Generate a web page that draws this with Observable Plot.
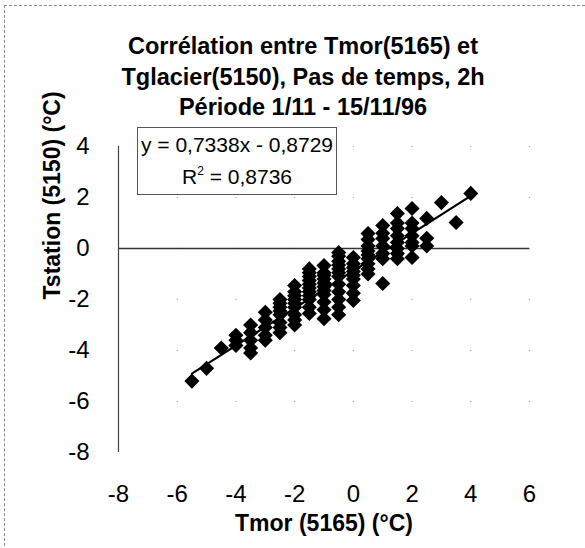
<!DOCTYPE html>
<html>
<head>
<meta charset="utf-8">
<script src="https://cdn.jsdelivr.net/npm/d3@7"></script>
<script src="https://cdn.jsdelivr.net/npm/@observablehq/plot@0.6"></script>
<style>
  html, body { margin: 0; padding: 0; background: #fff; }
  #wrap { position: relative; width: 585px; height: 548px; overflow: hidden; font-family: "Liberation Sans", Arial, sans-serif; }
  #border { position: absolute; left: 4px; top: 5px; width: 590px; height: 560px; border-top: 1px dashed #888; border-left: 1px dashed #888; pointer-events: none; }
  #eq { position: absolute; left: 137px; top: 127px; width: 200px; height: 68px; border: 1px solid #555; background: #fff;
        font-size: 21px; color: #000; text-align: center; line-height: 32px; box-sizing: border-box; padding-top: 1px; white-space: nowrap; }
  #eq sup { font-size: 12px; line-height: 0; vertical-align: 9px; }
</style>
</head>
<body>
<div id="wrap">
  <div id="chart"></div>
  <div id="eq">y = 0,7338x - 0,8729<br>R<sup>2</sup> = 0,8736</div>
  <div id="border"></div>
</div>
<script>
// Title lines
const titleLines = ["Corrélation entre Tmor(5165) et", "Tglacier(5150), Pas de temps, 2h", "Période 1/11 - 15/11/96"];
const xLabel = "Tmor (5165) (°C)";
const yLabel = "Tstation (5150) (°C)";
const xTicks = [-8, -6, -4, -2, 0, 2, 4, 6];
const yTicks = [-8, -6, -4, -2, 0, 2, 4];
const slope = 0.7338;
const intercept = -0.8729;

// Data: Tmor (x) and Tstation (y)
const tmor = [
  -5.5,
  -5.0,
  -4.5,
  -4.0, -4.0, -4.0,
  -3.5, -3.5, -3.5, -3.5, -3.5,
  -3.0, -3.0, -3.0, -3.0, -3.0,
  -2.5, -2.5, -2.5, -2.5, -2.5, -2.5, -2.5, -2.5,
  -2.0, -2.0, -2.0, -2.0, -2.0, -2.0, -2.0, -2.0, -2.0,
  -1.5, -1.5, -1.5, -1.5, -1.5, -1.5, -1.5, -1.5, -1.5, -1.5, -1.5,
  -1.0, -1.0, -1.0, -1.0, -1.0, -1.0, -1.0, -1.0, -1.0, -1.0, -1.0,
  -0.5, -0.5, -0.5, -0.5, -0.5, -0.5, -0.5, -0.5, -0.5, -0.5, -0.5, -0.5,
  0.0, 0.0, 0.0, 0.0, 0.0, 0.0, 0.0, 0.0, 0.0,
  0.5, 0.5, 0.5, 0.5, 0.5, 0.5, 0.5, 0.5, 0.5,
  1.0, 1.0, 1.0, 1.0, 1.0, 1.0, 1.0,
  1.5, 1.5, 1.5, 1.5, 1.5, 1.5, 1.5, 1.5,
  2.0, 2.0, 2.0, 2.0, 2.0, 2.0, 2.0,
  2.5, 2.5, 2.5,
  3.0,
  3.5,
  4.0
];
const tstation = [
  -5.2,
  -4.7,
  -3.9,
  -3.4, -3.6, -3.8,
  -3.0, -3.3, -3.6, -3.9, -4.1,
  -2.5, -2.8, -3.1, -3.4, -3.6,
  -2.0, -2.15, -2.3, -2.45, -2.6, -2.9, -3.1, -3.3,
  -1.45, -1.7, -1.85, -2.0, -2.15, -2.3, -2.6, -2.8, -3.0,
  -0.8, -0.95, -1.1, -1.25, -1.4, -1.55, -1.7, -1.85, -2.0, -2.3, -2.55,
  -0.67, -0.95, -1.05, -1.2, -1.35, -1.5, -1.65, -1.8, -2.1, -2.4, -2.75,
  -0.16, -0.3, -0.5, -0.65, -0.8, -0.95, -1.1, -1.4, -1.7, -2.0, -2.3, -2.6,
  -0.35, -0.6, -0.75, -0.9, -1.05, -1.2, -1.45, -1.75, -2.04,
  0.59, 0.35, 0.1, -0.1, -0.25, -0.4, -0.6, -0.8, -1.0,
  0.9, 0.6, 0.39, 0.1, -0.2, -0.4, -1.37,
  1.37, 1.0, 0.78, 0.5, 0.24, 0.0, -0.2, -0.4,
  1.57, 1.0, 0.78, 0.5, 0.24, 0.1, -0.35,
  1.18, 0.4, 0.1,
  1.8,
  1.02,
  2.16
];

const data = tmor.map((x, i) => ({x, y: tstation[i]}));
const [xmin, xmax] = d3.extent(tmor);
const trend = [xmin, xmax].map(x => ({x, y: slope * x + intercept}));
const gridPts = xTicks.slice(1).flatMap(x => yTicks.slice(1).map(y => ({x, y})));

const font = "Liberation Sans, Arial, sans-serif";
const chart = Plot.plot({
  width: 585,
  height: 548,
  marginLeft: 118,
  marginRight: 56,
  marginTop: 146,
  marginBottom: 96,
  style: {fontFamily: font, background: "transparent", overflow: "visible"},
  x: {domain: [-8, 6], axis: null},
  y: {domain: [-8, 4], axis: null},
  marks: [
    Plot.dot(gridPts, {x: "x", y: "y", r: 0.7, fill: "#aaa", stroke: null}),
    Plot.ruleY([0], {stroke: "#333", strokeWidth: 1.3}),
    Plot.ruleX([-8], {y1: -8, y2: 4, stroke: "#444", strokeWidth: 1.2}),
    Plot.dot(data, {x: "x", y: "y", symbol: "diamond2", r: 6.8, fill: "#000", stroke: null}),
    Plot.line(trend, {x: "x", y: "y", stroke: "#000", strokeWidth: 2.2}),
    Plot.text(xTicks, {x: d => d, y: () => -8, dy: 42, text: d => String(d), fontSize: 24, fill: "#000"}),
    Plot.text(yTicks, {x: () => -8, y: d => d, dx: -29, textAnchor: "end", text: d => String(d), fontSize: 24, fill: "#000"}),
    Plot.text([xLabel], {frameAnchor: "bottom", dy: 78, text: d => d, fontSize: 23, fontWeight: "bold", fill: "#000"}),
    Plot.text([yLabel], {frameAnchor: "left", dx: -66, rotate: -90, text: d => d, fontSize: 23, fontWeight: "bold", fill: "#000"}),
    ...titleLines.map((t, i) => Plot.text([t], {frameAnchor: "top", dx: -21, dy: -109 + i * 30.5, text: d => d, fontSize: 23.5, fontWeight: "bold", fill: "#000"}))
  ]
});
document.getElementById("chart").appendChild(chart);
</script>
</body>
</html>
